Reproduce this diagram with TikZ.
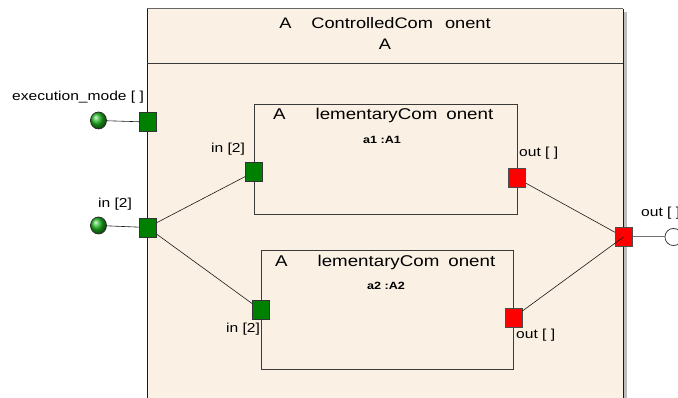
\documentclass[tikz,border=0pt]{standalone}
\usepackage{fontspec}
\setmainfont{Liberation Sans}
\newfontfamily\wf[FakeStretch=1.2]{Liberation Sans}
\definecolor{beige}{HTML}{FAF0E3}
\definecolor{pgreen}{HTML}{008000}
\definecolor{ballgreen}{HTML}{1EB41E}
\definecolor{pred}{HTML}{FF0000}
\definecolor{shadowgray}{HTML}{BDBDBD}
\definecolor{frame}{HTML}{3A3A3A}
\tikzset{
  inport/.style={draw=black!80, fill=pgreen, line width=0.7pt, minimum width=17pt, minimum height=19pt, inner sep=0pt},
  outport/.style={draw=black!70, fill=pred, line width=0.7pt, minimum width=17pt, minimum height=19pt, inner sep=0pt},
  extin/.style={ellipse, draw=black!85, line width=0.7pt, shading=ball, ball color=ballgreen, minimum width=16pt, minimum height=17pt, inner sep=0pt},
  extout/.style={circle, draw=black!80, fill=white, line width=0.6pt, minimum size=17pt, inner sep=0pt},
  lbl/.style={font=\wf\fontsize{13}{15}\selectfont, inner sep=0pt, anchor=base west},
  ttl/.style={font=\wf\fontsize{15.6}{17}\selectfont, inner sep=0pt, anchor=base west},
  inst/.style={font=\wf\bfseries\fontsize{10.5}{12}\selectfont, inner sep=0pt, anchor=base},
  wire/.style={draw=black!90, line width=0.6pt},
  compbox/.style={draw=frame, line width=0.8pt, fill=beige}
}
\usetikzlibrary{shapes.geometric}
\begin{document}
\begin{tikzpicture}[x=1pt,y=-1pt]
\useasboundingbox (0,0) rectangle (678,398);
\clip (0,0) rectangle (678,398);
\fill[white] (0,0) rectangle (678,398);
% outer component
\fill[shadowgray] (623,12) rectangle (627,410);
\fill[beige] (147,9) rectangle (623,410);
\draw[black!60, line width=1pt] (147,9) -- (623,9);
\draw[black!90, line width=1pt] (147,410) -- (147,9);
\draw[black!90, line width=1pt] (623,9) -- (623,410);
\draw[frame, line width=1pt] (147,64) -- (623,64);
\node[font=\wf\fontsize{15.2}{17}\selectfont, inner sep=0pt, anchor=base] (htitle) at (385,29) {A\hspace{20pt}ControlledCom\hspace{12pt}onent};
\node[font=\wf\fontsize{15.2}{17}\selectfont, inner sep=0pt, anchor=base] (hname) at (385,50) {A};
% inner components
\draw[compbox] (254,104) rectangle (517,214);
\draw[compbox] (261,250) rectangle (513,369);
\node[ttl] (t1) at (273,120) {A\hspace{30pt}lementaryCom\hspace{9pt}onent};
\node[inst] (i1) at (382,144) {a1 :A1};
\node[ttl] (t2) at (275,267) {A\hspace{30pt}lementaryCom\hspace{9pt}onent};
\node[inst] (i2) at (386,290) {a2 :A2};
% external ports
\node[extin] (emc) at (98.5,120.5) {};
\node[extin] (inc) at (98.5,225.5) {};
\node[extout] (outc) at (673.5,237) {};
% ports
\coordinate (emp0) at (147.5,122);
\coordinate (inp0) at (147.5,227.5);
\coordinate (a1in0) at (254,172);
\coordinate (a1out0) at (516.5,178);
\coordinate (a2in0) at (261,310);
\coordinate (a2out0) at (513.5,317.5);
\coordinate (outp0) at (623.5,237);
\draw[wire] (emc) -- (emp0);
\draw[wire] (inc) -- (inp0);
\draw[wire] (inp0) -- (a1in0);
\draw[wire] (inp0) -- (a2in0);
\draw[wire] (a1out0) -- (outp0);
\draw[black!55, line width=1pt] (outp0) -- (outc);
\node[extout] at (outc) {};
\node[inport] (emp) at (emp0) {};
\node[inport] (inp) at (inp0) {};
\node[inport] (a1in) at (a1in0) {};
\node[outport] (a1out) at (a1out0) {};
\node[inport] (a2in) at (a2in0) {};
\node[outport] (a2out) at (a2out0) {};
\node[outport] (outp) at (outp0) {};
\draw[wire] (a2out) -- (outp.center);
% labels
\node[lbl] (lem) at (12,101) {execution\_mode [ ]};
\node[lbl] (lin) at (98,208) {in [2]};
\node[lbl] (la1in) at (211,153) {in [2]};
\node[lbl] (la1out) at (519,157) {out [ ]};
\node[lbl] (la2in) at (226,333) {in [2]};
\node[lbl] (la2out) at (516,338) {out [ ]};
\node[lbl] (lout) at (641,217) {out [ ]};
\end{tikzpicture}
\end{document}
